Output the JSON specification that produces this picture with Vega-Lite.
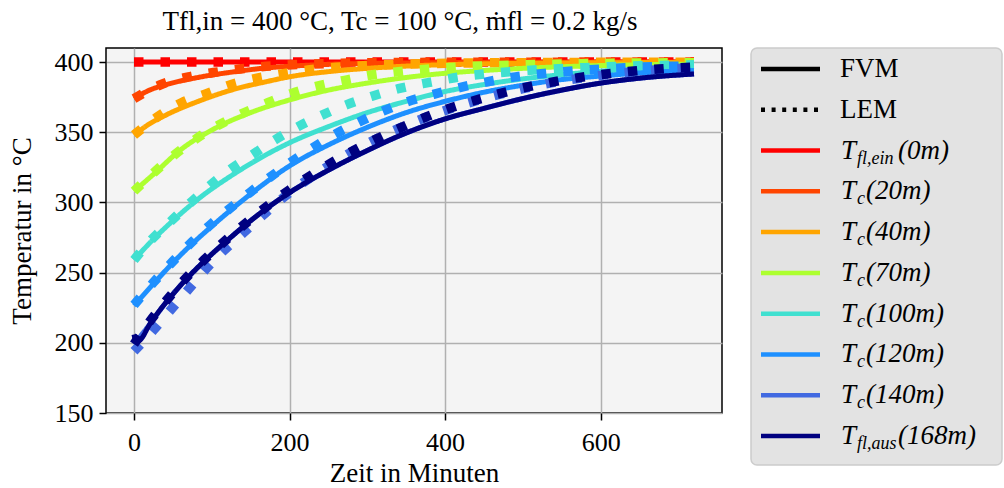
{
  "$schema": "https://vega.github.io/schema/vega-lite/v6.json",
  "padding": {"left": 7, "top": 8, "right": 0, "bottom": 0},
  "background": "white",
  "title": {
    "text": "Tfl,in = 400 °C, Tc = 100 °C, ṁfl = 0.2 kg/s",
    "anchor": "middle",
    "frame": "bounds",
    "dx": -105,
    "offset": 11,
    "font": "Liberation Serif",
    "fontSize": 27,
    "fontWeight": "normal",
    "color": "black"
  },
  "datasets": {
    "curves": [
      {"series": "0m", "method": "FVM", "minute": 0, "temp": 400},
      {"series": "0m", "method": "FVM", "minute": 360, "temp": 400},
      {"series": "0m", "method": "FVM", "minute": 720, "temp": 400},
      {"series": "0m", "method": "LEM", "minute": 0, "temp": 400},
      {"series": "0m", "method": "LEM", "minute": 360, "temp": 400},
      {"series": "0m", "method": "LEM", "minute": 720, "temp": 400},

      {"series": "20m", "method": "FVM", "minute": 0, "temp": 374},
      {"series": "20m", "method": "FVM", "minute": 20, "temp": 380},
      {"series": "20m", "method": "FVM", "minute": 42, "temp": 384},
      {"series": "20m", "method": "FVM", "minute": 85, "temp": 389.3},
      {"series": "20m", "method": "FVM", "minute": 128, "temp": 393},
      {"series": "20m", "method": "FVM", "minute": 170, "temp": 395.8},
      {"series": "20m", "method": "FVM", "minute": 200, "temp": 397},
      {"series": "20m", "method": "FVM", "minute": 256, "temp": 398.5},
      {"series": "20m", "method": "FVM", "minute": 300, "temp": 399},
      {"series": "20m", "method": "FVM", "minute": 400, "temp": 399.6},
      {"series": "20m", "method": "FVM", "minute": 550, "temp": 399.9},
      {"series": "20m", "method": "FVM", "minute": 720, "temp": 400},
      {"series": "20m", "method": "LEM", "minute": 0, "temp": 374},
      {"series": "20m", "method": "LEM", "minute": 35, "temp": 384},
      {"series": "20m", "method": "LEM", "minute": 70, "temp": 389.5},
      {"series": "20m", "method": "LEM", "minute": 102, "temp": 392.5},
      {"series": "20m", "method": "LEM", "minute": 136, "temp": 395},
      {"series": "20m", "method": "LEM", "minute": 170, "temp": 397},
      {"series": "20m", "method": "LEM", "minute": 220, "temp": 398.4},
      {"series": "20m", "method": "LEM", "minute": 280, "temp": 399.3},
      {"series": "20m", "method": "LEM", "minute": 400, "temp": 399.8},
      {"series": "20m", "method": "LEM", "minute": 720, "temp": 400},

      {"series": "40m", "method": "FVM", "minute": 0, "temp": 348},
      {"series": "40m", "method": "FVM", "minute": 20, "temp": 356},
      {"series": "40m", "method": "FVM", "minute": 42, "temp": 362.5},
      {"series": "40m", "method": "FVM", "minute": 85, "temp": 372.5},
      {"series": "40m", "method": "FVM", "minute": 128, "temp": 380.5},
      {"series": "40m", "method": "FVM", "minute": 170, "temp": 386},
      {"series": "40m", "method": "FVM", "minute": 200, "temp": 389.5},
      {"series": "40m", "method": "FVM", "minute": 256, "temp": 393.5},
      {"series": "40m", "method": "FVM", "minute": 300, "temp": 395.5},
      {"series": "40m", "method": "FVM", "minute": 367, "temp": 397.5},
      {"series": "40m", "method": "FVM", "minute": 450, "temp": 398.7},
      {"series": "40m", "method": "FVM", "minute": 550, "temp": 399.3},
      {"series": "40m", "method": "FVM", "minute": 720, "temp": 399.7},
      {"series": "40m", "method": "LEM", "minute": 0, "temp": 348},
      {"series": "40m", "method": "LEM", "minute": 29, "temp": 360.5},
      {"series": "40m", "method": "LEM", "minute": 61, "temp": 371},
      {"series": "40m", "method": "LEM", "minute": 93, "temp": 377.5},
      {"series": "40m", "method": "LEM", "minute": 125, "temp": 384},
      {"series": "40m", "method": "LEM", "minute": 158, "temp": 388.5},
      {"series": "40m", "method": "LEM", "minute": 192, "temp": 391.7},
      {"series": "40m", "method": "LEM", "minute": 226, "temp": 394.5},
      {"series": "40m", "method": "LEM", "minute": 260, "temp": 396.3},
      {"series": "40m", "method": "LEM", "minute": 300, "temp": 397.5},
      {"series": "40m", "method": "LEM", "minute": 350, "temp": 398.5},
      {"series": "40m", "method": "LEM", "minute": 420, "temp": 399.2},
      {"series": "40m", "method": "LEM", "minute": 520, "temp": 399.6},
      {"series": "40m", "method": "LEM", "minute": 720, "temp": 399.9},

      {"series": "70m", "method": "FVM", "minute": 0, "temp": 308},
      {"series": "70m", "method": "FVM", "minute": 25, "temp": 320},
      {"series": "70m", "method": "FVM", "minute": 60, "temp": 337.5},
      {"series": "70m", "method": "FVM", "minute": 105, "temp": 353},
      {"series": "70m", "method": "FVM", "minute": 150, "temp": 364},
      {"series": "70m", "method": "FVM", "minute": 200, "temp": 373},
      {"series": "70m", "method": "FVM", "minute": 250, "temp": 380},
      {"series": "70m", "method": "FVM", "minute": 300, "temp": 385},
      {"series": "70m", "method": "FVM", "minute": 350, "temp": 389},
      {"series": "70m", "method": "FVM", "minute": 400, "temp": 392},
      {"series": "70m", "method": "FVM", "minute": 450, "temp": 394},
      {"series": "70m", "method": "FVM", "minute": 500, "temp": 395.5},
      {"series": "70m", "method": "FVM", "minute": 600, "temp": 397.5},
      {"series": "70m", "method": "FVM", "minute": 720, "temp": 398.5},
      {"series": "70m", "method": "LEM", "minute": 0, "temp": 308},
      {"series": "70m", "method": "LEM", "minute": 25, "temp": 321},
      {"series": "70m", "method": "LEM", "minute": 50, "temp": 333},
      {"series": "70m", "method": "LEM", "minute": 90, "temp": 349},
      {"series": "70m", "method": "LEM", "minute": 130, "temp": 361},
      {"series": "70m", "method": "LEM", "minute": 172, "temp": 371},
      {"series": "70m", "method": "LEM", "minute": 202, "temp": 377.5},
      {"series": "70m", "method": "LEM", "minute": 237, "temp": 383},
      {"series": "70m", "method": "LEM", "minute": 271, "temp": 387},
      {"series": "70m", "method": "LEM", "minute": 303, "temp": 390.5},
      {"series": "70m", "method": "LEM", "minute": 337, "temp": 393},
      {"series": "70m", "method": "LEM", "minute": 380, "temp": 395},
      {"series": "70m", "method": "LEM", "minute": 430, "temp": 396.8},
      {"series": "70m", "method": "LEM", "minute": 500, "temp": 398},
      {"series": "70m", "method": "LEM", "minute": 600, "temp": 399},
      {"series": "70m", "method": "LEM", "minute": 720, "temp": 399.5},

      {"series": "100m", "method": "FVM", "minute": 0, "temp": 259},
      {"series": "100m", "method": "FVM", "minute": 20, "temp": 271},
      {"series": "100m", "method": "FVM", "minute": 50, "temp": 287},
      {"series": "100m", "method": "FVM", "minute": 85, "temp": 303.5},
      {"series": "100m", "method": "FVM", "minute": 125, "temp": 319},
      {"series": "100m", "method": "FVM", "minute": 170, "temp": 334},
      {"series": "100m", "method": "FVM", "minute": 200, "temp": 342.5},
      {"series": "100m", "method": "FVM", "minute": 250, "temp": 354},
      {"series": "100m", "method": "FVM", "minute": 300, "temp": 364},
      {"series": "100m", "method": "FVM", "minute": 350, "temp": 372},
      {"series": "100m", "method": "FVM", "minute": 400, "temp": 379},
      {"series": "100m", "method": "FVM", "minute": 450, "temp": 384},
      {"series": "100m", "method": "FVM", "minute": 500, "temp": 388},
      {"series": "100m", "method": "FVM", "minute": 550, "temp": 391},
      {"series": "100m", "method": "FVM", "minute": 600, "temp": 393.5},
      {"series": "100m", "method": "FVM", "minute": 650, "temp": 395},
      {"series": "100m", "method": "FVM", "minute": 720, "temp": 396.5},
      {"series": "100m", "method": "LEM", "minute": 0, "temp": 259},
      {"series": "100m", "method": "LEM", "minute": 20, "temp": 272},
      {"series": "100m", "method": "LEM", "minute": 50, "temp": 288},
      {"series": "100m", "method": "LEM", "minute": 85, "temp": 306},
      {"series": "100m", "method": "LEM", "minute": 120, "temp": 322},
      {"series": "100m", "method": "LEM", "minute": 155, "temp": 335},
      {"series": "100m", "method": "LEM", "minute": 181, "temp": 344.5},
      {"series": "100m", "method": "LEM", "minute": 211, "temp": 354},
      {"series": "100m", "method": "LEM", "minute": 241, "temp": 362},
      {"series": "100m", "method": "LEM", "minute": 273, "temp": 369.5},
      {"series": "100m", "method": "LEM", "minute": 305, "temp": 375.5},
      {"series": "100m", "method": "LEM", "minute": 340, "temp": 381},
      {"series": "100m", "method": "LEM", "minute": 380, "temp": 385.5},
      {"series": "100m", "method": "LEM", "minute": 420, "temp": 389.5},
      {"series": "100m", "method": "LEM", "minute": 470, "temp": 392.5},
      {"series": "100m", "method": "LEM", "minute": 520, "temp": 394.5},
      {"series": "100m", "method": "LEM", "minute": 580, "temp": 396},
      {"series": "100m", "method": "LEM", "minute": 650, "temp": 397.3},
      {"series": "100m", "method": "LEM", "minute": 720, "temp": 398},

      {"series": "120m", "method": "FVM", "minute": 0, "temp": 226.5},
      {"series": "120m", "method": "FVM", "minute": 25, "temp": 242},
      {"series": "120m", "method": "FVM", "minute": 50, "temp": 257},
      {"series": "120m", "method": "FVM", "minute": 70, "temp": 268},
      {"series": "120m", "method": "FVM", "minute": 100, "temp": 283},
      {"series": "120m", "method": "FVM", "minute": 150, "temp": 306},
      {"series": "120m", "method": "FVM", "minute": 200, "temp": 326},
      {"series": "120m", "method": "FVM", "minute": 250, "temp": 341},
      {"series": "120m", "method": "FVM", "minute": 300, "temp": 353.5},
      {"series": "120m", "method": "FVM", "minute": 350, "temp": 364},
      {"series": "120m", "method": "FVM", "minute": 400, "temp": 372},
      {"series": "120m", "method": "FVM", "minute": 450, "temp": 378.5},
      {"series": "120m", "method": "FVM", "minute": 500, "temp": 383.5},
      {"series": "120m", "method": "FVM", "minute": 550, "temp": 387.5},
      {"series": "120m", "method": "FVM", "minute": 600, "temp": 390},
      {"series": "120m", "method": "FVM", "minute": 650, "temp": 392.2},
      {"series": "120m", "method": "FVM", "minute": 720, "temp": 394},
      {"series": "120m", "method": "LEM", "minute": 0, "temp": 227},
      {"series": "120m", "method": "LEM", "minute": 25, "temp": 243},
      {"series": "120m", "method": "LEM", "minute": 50, "temp": 258},
      {"series": "120m", "method": "LEM", "minute": 75, "temp": 272},
      {"series": "120m", "method": "LEM", "minute": 100, "temp": 285},
      {"series": "120m", "method": "LEM", "minute": 125, "temp": 296.5},
      {"series": "120m", "method": "LEM", "minute": 150, "temp": 307.5},
      {"series": "120m", "method": "LEM", "minute": 175, "temp": 318},
      {"series": "120m", "method": "LEM", "minute": 200, "temp": 328},
      {"series": "120m", "method": "LEM", "minute": 230, "temp": 339},
      {"series": "120m", "method": "LEM", "minute": 260, "temp": 349},
      {"series": "120m", "method": "LEM", "minute": 290, "temp": 357.5},
      {"series": "120m", "method": "LEM", "minute": 320, "temp": 365},
      {"series": "120m", "method": "LEM", "minute": 350, "temp": 371.5},
      {"series": "120m", "method": "LEM", "minute": 385, "temp": 377},
      {"series": "120m", "method": "LEM", "minute": 420, "temp": 382},
      {"series": "120m", "method": "LEM", "minute": 450, "temp": 385.5},
      {"series": "120m", "method": "LEM", "minute": 485, "temp": 389},
      {"series": "120m", "method": "LEM", "minute": 520, "temp": 391.5},
      {"series": "120m", "method": "LEM", "minute": 560, "temp": 393.5},
      {"series": "120m", "method": "LEM", "minute": 600, "temp": 395},
      {"series": "120m", "method": "LEM", "minute": 650, "temp": 396.3},
      {"series": "120m", "method": "LEM", "minute": 720, "temp": 397.3},

      {"series": "140m", "method": "FVM", "minute": 0, "temp": 199},
      {"series": "140m", "method": "FVM", "minute": 20, "temp": 213},
      {"series": "140m", "method": "FVM", "minute": 40, "temp": 228},
      {"series": "140m", "method": "FVM", "minute": 60, "temp": 241},
      {"series": "140m", "method": "FVM", "minute": 90, "temp": 258},
      {"series": "140m", "method": "FVM", "minute": 120, "temp": 273},
      {"series": "140m", "method": "FVM", "minute": 150, "temp": 287},
      {"series": "140m", "method": "FVM", "minute": 200, "temp": 307},
      {"series": "140m", "method": "FVM", "minute": 250, "temp": 323},
      {"series": "140m", "method": "FVM", "minute": 300, "temp": 337},
      {"series": "140m", "method": "FVM", "minute": 350, "temp": 349.5},
      {"series": "140m", "method": "FVM", "minute": 400, "temp": 359.5},
      {"series": "140m", "method": "FVM", "minute": 450, "temp": 367},
      {"series": "140m", "method": "FVM", "minute": 500, "temp": 374},
      {"series": "140m", "method": "FVM", "minute": 550, "temp": 380},
      {"series": "140m", "method": "FVM", "minute": 600, "temp": 385},
      {"series": "140m", "method": "FVM", "minute": 650, "temp": 388.5},
      {"series": "140m", "method": "FVM", "minute": 720, "temp": 391.5},
      {"series": "140m", "method": "LEM", "minute": 0, "temp": 194},
      {"series": "140m", "method": "LEM", "minute": 25, "temp": 209},
      {"series": "140m", "method": "LEM", "minute": 45, "temp": 222},
      {"series": "140m", "method": "LEM", "minute": 70, "temp": 238},
      {"series": "140m", "method": "LEM", "minute": 90, "temp": 251},
      {"series": "140m", "method": "LEM", "minute": 115, "temp": 265.5},
      {"series": "140m", "method": "LEM", "minute": 140, "temp": 278},
      {"series": "140m", "method": "LEM", "minute": 165, "temp": 290.5},
      {"series": "140m", "method": "LEM", "minute": 190, "temp": 302.5},
      {"series": "140m", "method": "LEM", "minute": 220, "temp": 315},
      {"series": "140m", "method": "LEM", "minute": 250, "temp": 326},
      {"series": "140m", "method": "LEM", "minute": 300, "temp": 342},
      {"series": "140m", "method": "LEM", "minute": 350, "temp": 355},
      {"series": "140m", "method": "LEM", "minute": 400, "temp": 365.5},
      {"series": "140m", "method": "LEM", "minute": 450, "temp": 374},
      {"series": "140m", "method": "LEM", "minute": 500, "temp": 381},
      {"series": "140m", "method": "LEM", "minute": 550, "temp": 386.5},
      {"series": "140m", "method": "LEM", "minute": 600, "temp": 390.5},
      {"series": "140m", "method": "LEM", "minute": 650, "temp": 393.5},
      {"series": "140m", "method": "LEM", "minute": 720, "temp": 396},

      {"series": "168m", "method": "FVM", "minute": 0, "temp": 206},
      {"series": "168m", "method": "FVM", "minute": 3, "temp": 200.5},
      {"series": "168m", "method": "FVM", "minute": 8, "temp": 202},
      {"series": "168m", "method": "FVM", "minute": 20, "temp": 213},
      {"series": "168m", "method": "FVM", "minute": 40, "temp": 228},
      {"series": "168m", "method": "FVM", "minute": 60, "temp": 241},
      {"series": "168m", "method": "FVM", "minute": 90, "temp": 258},
      {"series": "168m", "method": "FVM", "minute": 120, "temp": 273},
      {"series": "168m", "method": "FVM", "minute": 150, "temp": 287},
      {"series": "168m", "method": "FVM", "minute": 200, "temp": 307},
      {"series": "168m", "method": "FVM", "minute": 250, "temp": 323},
      {"series": "168m", "method": "FVM", "minute": 300, "temp": 337},
      {"series": "168m", "method": "FVM", "minute": 350, "temp": 349.5},
      {"series": "168m", "method": "FVM", "minute": 400, "temp": 359.5},
      {"series": "168m", "method": "FVM", "minute": 450, "temp": 367},
      {"series": "168m", "method": "FVM", "minute": 500, "temp": 374},
      {"series": "168m", "method": "FVM", "minute": 550, "temp": 380},
      {"series": "168m", "method": "FVM", "minute": 600, "temp": 385},
      {"series": "168m", "method": "FVM", "minute": 650, "temp": 388.5},
      {"series": "168m", "method": "FVM", "minute": 720, "temp": 391.5},
      {"series": "168m", "method": "LEM", "minute": 0, "temp": 199},
      {"series": "168m", "method": "LEM", "minute": 20, "temp": 215},
      {"series": "168m", "method": "LEM", "minute": 40, "temp": 229},
      {"series": "168m", "method": "LEM", "minute": 60, "temp": 242},
      {"series": "168m", "method": "LEM", "minute": 90, "temp": 259},
      {"series": "168m", "method": "LEM", "minute": 120, "temp": 274},
      {"series": "168m", "method": "LEM", "minute": 150, "temp": 288},
      {"series": "168m", "method": "LEM", "minute": 200, "temp": 309},
      {"series": "168m", "method": "LEM", "minute": 250, "temp": 327},
      {"series": "168m", "method": "LEM", "minute": 300, "temp": 342},
      {"series": "168m", "method": "LEM", "minute": 350, "temp": 355},
      {"series": "168m", "method": "LEM", "minute": 400, "temp": 366},
      {"series": "168m", "method": "LEM", "minute": 450, "temp": 374.5},
      {"series": "168m", "method": "LEM", "minute": 500, "temp": 381.5},
      {"series": "168m", "method": "LEM", "minute": 550, "temp": 387},
      {"series": "168m", "method": "LEM", "minute": 600, "temp": 391},
      {"series": "168m", "method": "LEM", "minute": 650, "temp": 394},
      {"series": "168m", "method": "LEM", "minute": 720, "temp": 396.5}
    ],
    "legend": [
      {"series": "FVM", "main": "FVM", "sub": "", "tail": ""},
      {"series": "LEM", "main": "LEM", "sub": "", "tail": ""},
      {"series": "0m", "main": "T", "sub": "fl,ein", "tail": "(0m)"},
      {"series": "20m", "main": "T", "sub": "c", "tail": "(20m)"},
      {"series": "40m", "main": "T", "sub": "c", "tail": "(40m)"},
      {"series": "70m", "main": "T", "sub": "c", "tail": "(70m)"},
      {"series": "100m", "main": "T", "sub": "c", "tail": "(100m)"},
      {"series": "120m", "main": "T", "sub": "c", "tail": "(120m)"},
      {"series": "140m", "main": "T", "sub": "c", "tail": "(140m)"},
      {"series": "168m", "main": "T", "sub": "fl,aus", "tail": "(168m)"}
    ]
  },
  "hconcat": [
    {
      "width": 616,
      "height": 365,
      "view": {"fill": "#f4f4f4", "stroke": "black", "strokeWidth": 1.5},
      "data": {"name": "curves"},
      "mark": {"type": "line", "interpolate": "monotone", "strokeCap": "butt", "strokeJoin": "round"},
      "encoding": {
        "x": {
          "field": "minute", "type": "quantitative",
          "scale": {"domain": [-36, 756], "nice": false, "zero": false},
          "axis": {"values": [0, 200, 400, 600], "title": "Zeit in Minuten", "labelPadding": 9, "titlePadding": 5}
        },
        "y": {
          "field": "temp", "type": "quantitative",
          "scale": {"domain": [150, 410], "nice": false, "zero": false},
          "axis": {"values": [150, 200, 250, 300, 350, 400], "title": "Temperatur in °C", "labelPadding": 6, "titlePadding": 18}
        },
        "color": {
          "field": "series", "type": "nominal", "legend": null,
          "scale": {
            "domain": ["FVM", "LEM", "0m", "20m", "40m", "70m", "100m", "120m", "140m", "168m"],
            "range": ["#000000", "#000000", "#ff0000", "#ff4500", "#ffa500", "#adff2f", "#40e0d0", "#1e90ff", "#4169e1", "#000080"]
          }
        },
        "strokeDash": {
          "field": "method", "type": "nominal", "legend": null,
          "scale": {"domain": ["FVM", "LEM"], "range": [[1, 0], [9.5, 17]]}
        },
        "strokeWidth": {
          "field": "method", "type": "ordinal", "legend": null,
          "scale": {"domain": ["FVM", "LEM"], "range": [5, 9.5]}
        }
      }
    },
    {
      "width": 251,
      "height": 417,
      "view": {"fill": "#e3e3e3", "stroke": "#cccccc", "strokeWidth": 1.5, "cornerRadius": 6},
      "data": {"name": "legend"},
      "transform": [
        {"calculate": "108.5 + 6.4 * length(datum.sub)", "as": "tailPos"}
      ],
      "encoding": {
        "y": {
          "field": "series", "type": "nominal", "axis": null,
          "scale": {
            "type": "point",
            "padding": 0,
            "domain": ["FVM", "LEM", "0m", "20m", "40m", "70m", "100m", "120m", "140m", "168m"],
            "range": [21, 388]
          }
        }
      },
      "layer": [
        {
          "transform": [{"filter": "datum.series !== 'LEM'"}],
          "mark": {"type": "rule", "strokeWidth": 4.5, "strokeCap": "butt"},
          "encoding": {
            "x": {"datum": 10, "type": "quantitative", "scale": {"domain": [0, 251], "nice": false, "zero": false}, "axis": null},
            "x2": {"datum": 69},
            "color": {
              "field": "series", "type": "nominal", "legend": null,
              "scale": {
                "domain": ["FVM", "LEM", "0m", "20m", "40m", "70m", "100m", "120m", "140m", "168m"],
                "range": ["#000000", "#000000", "#ff0000", "#ff4500", "#ffa500", "#adff2f", "#40e0d0", "#1e90ff", "#4169e1", "#000080"]
              }
            }
          }
        },
        {
          "transform": [{"filter": "datum.series === 'LEM'"}],
          "mark": {"type": "rule", "strokeWidth": 4.5, "strokeCap": "butt", "strokeDash": [4, 6.6], "color": "black"},
          "encoding": {
            "x": {"datum": 10, "type": "quantitative"},
            "x2": {"datum": 69}
          }
        },
        {
          "transform": [{"filter": "datum.sub === ''"}],
          "mark": {"type": "text", "align": "left", "baseline": "middle", "font": "Liberation Serif", "fontSize": 27, "color": "black"},
          "encoding": {
            "x": {"datum": 89, "type": "quantitative"},
            "text": {"field": "main"}
          }
        },
        {
          "transform": [{"filter": "datum.sub !== ''"}],
          "mark": {"type": "text", "align": "left", "baseline": "middle", "font": "Liberation Serif", "fontSize": 27, "fontStyle": "italic", "color": "black"},
          "encoding": {
            "x": {"datum": 90, "type": "quantitative"},
            "text": {"field": "main"}
          }
        },
        {
          "transform": [{"filter": "datum.sub !== ''"}],
          "mark": {"type": "text", "align": "left", "baseline": "middle", "font": "Liberation Serif", "fontSize": 18, "fontStyle": "italic", "color": "black", "dy": 8},
          "encoding": {
            "x": {"datum": 106, "type": "quantitative"},
            "text": {"field": "sub"}
          }
        },
        {
          "transform": [{"filter": "datum.sub !== ''"}],
          "mark": {"type": "text", "align": "left", "baseline": "middle", "font": "Liberation Serif", "fontSize": 27, "fontStyle": "italic", "color": "black"},
          "encoding": {
            "x": {"field": "tailPos", "type": "quantitative"},
            "text": {"field": "tail"}
          }
        }
      ]
    }
  ],
  "spacing": 27,
  "config": {
    "font": "Liberation Serif",
    "view": {"stroke": null},
    "axis": {
      "labelFont": "Liberation Serif",
      "labelFontSize": 26,
      "labelColor": "black",
      "titleFont": "Liberation Serif",
      "titleFontSize": 27,
      "titleFontWeight": "normal",
      "titleColor": "black",
      "tickColor": "black",
      "tickSize": 7,
      "tickWidth": 1.5,
      "gridColor": "#b0b0b0",
      "gridWidth": 1.5,
      "domain": false
    }
  }
}
